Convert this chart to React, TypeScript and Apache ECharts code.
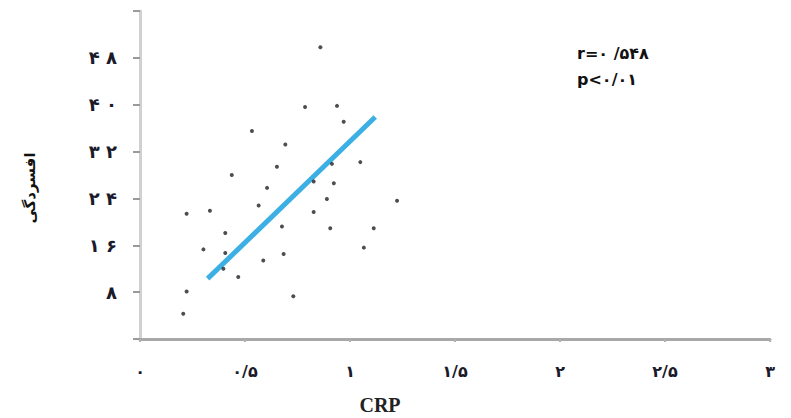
import React, { useEffect, useRef } from "react";
import * as echarts from "echarts";

const xTickLabels = ["۰", "۰/۵", "۱", "۱/۵", "۲", "۲/۵", "۳"];
const yTickLabels: Record<number, string> = { 8: "۸", 16: "۱ ۶", 24: "۲ ۴", 32: "۳ ۲", 40: "۴ ۰", 48: "۴ ۸" };

const crpValues = [
  0.859, 0.786, 0.938, 0.970, 0.533, 0.692, 0.914, 1.049, 0.652, 0.437, 0.827,
  0.923, 0.605, 0.890, 1.224, 0.565, 0.222, 0.333, 0.827, 0.676, 0.906, 1.113,
  0.406, 0.302, 0.406, 1.066, 0.684, 0.587, 0.397, 0.468, 0.222, 0.730, 0.206,
];
const depressionValues = [
  49.8, 39.6, 39.8, 37.1, 35.5, 33.2, 29.9, 30.2, 29.4, 28.0, 26.9,
  26.6, 25.8, 23.9, 23.6, 22.8, 21.4, 21.9, 21.7, 19.2, 18.9, 18.9,
  18.1, 15.3, 14.7, 15.6, 14.5, 13.4, 12.0, 10.6, 8.1, 7.3, 4.3,
];
const trendX = [0.322, 1.12];
const trendY = [10.3, 37.9];

const yAxisTitle = "افسردگی";
const xAxisTitle = "CRP";
const statR = "r=۰ /۵۴۸";
const statP = "p<۰/۰۱";

export default function App() {
  const ref = useRef<HTMLDivElement>(null);
  useEffect(() => {
    if (!ref.current) return;
    const chart = echarts.init(ref.current, null, { renderer: "svg" });
    const points = crpValues.map((x, i) => [x, depressionValues[i]]);
    const trend = trendX.map((x, i) => [x, trendY[i]]);
    chart.setOption({
      animation: false,
      backgroundColor: "#ffffff",
      grid: { left: 140, right: 21, top: 11, bottom: 79 },
      xAxis: {
        type: "value",
        min: 0,
        max: 3,
        interval: 0.5,
        axisLine: { show: true, lineStyle: { color: "#a8a8a8", width: 3 } },
        axisTick: { show: true, inside: false, length: 3, lineStyle: { color: "#b0b0b0", width: 2 } },
        splitLine: { show: false },
        axisLabel: {
          margin: 24,
          fontFamily: "DejaVu Sans",
          fontWeight: "bold",
          fontSize: 16,
          color: "#1a1a2a",
          formatter: (v: number) => {
            const idx = Math.round(v / 0.5);
            return Math.abs(v - idx * 0.5) < 1e-6 ? xTickLabels[idx] ?? "" : "";
          },
        },
      },
      yAxis: {
        type: "value",
        min: 0,
        max: 56,
        interval: 8,
        axisLine: { show: true, lineStyle: { color: "#d0d0d0", width: 3 } },
        axisTick: { show: true, inside: false, length: 7, lineStyle: { color: "#9a9a9a", width: 2 } },
        splitLine: { show: false },
        axisLabel: {
          margin: 23,
          fontFamily: "DejaVu Sans",
          fontWeight: "bold",
          fontSize: 18,
          color: "#1a1a2a",
          formatter: (v: number) => yTickLabels[Math.round(v)] ?? "",
        },
      },
      graphic: [
        {
          type: "text",
          x: 30,
          y: 188,
          rotation: Math.PI / 2,
          style: {
            text: yAxisTitle,
            fontFamily: "DejaVu Sans",
            fontWeight: "bold",
            fontSize: 15,
            fill: "#111",
            align: "center",
            verticalAlign: "middle",
          },
        },
        {
          type: "text",
          x: 380,
          y: 405,
          style: {
            text: xAxisTitle,
            fontFamily: "Liberation Serif",
            fontWeight: "bold",
            fontSize: 20,
            fill: "#222",
            align: "center",
            verticalAlign: "middle",
          },
        },
        {
          type: "text",
          x: 577,
          y: 53,
          style: {
            text: statR,
            fontFamily: "DejaVu Sans",
            fontWeight: "bold",
            fontSize: 16,
            fill: "#111",
            align: "left",
            verticalAlign: "middle",
          },
        },
        {
          type: "text",
          x: 577,
          y: 79,
          style: {
            text: statP,
            fontFamily: "DejaVu Sans",
            fontWeight: "bold",
            fontSize: 16,
            fill: "#111",
            align: "left",
            verticalAlign: "middle",
          },
        },
      ],
      series: [
        {
          type: "line",
          data: trend,
          symbol: "none",
          lineStyle: { color: "#3cb0e4", width: 5 },
          z: 2,
        },
        {
          type: "scatter",
          data: points,
          symbol: "circle",
          symbolSize: 4,
          itemStyle: { color: "#222" },
          z: 3,
        },
      ],
    });
    return () => chart.dispose();
  }, []);
  return (
    <div
      ref={ref}
      style={{ position: "fixed", left: 0, top: 0, width: 791, height: 418 }}
    />
  );
}
